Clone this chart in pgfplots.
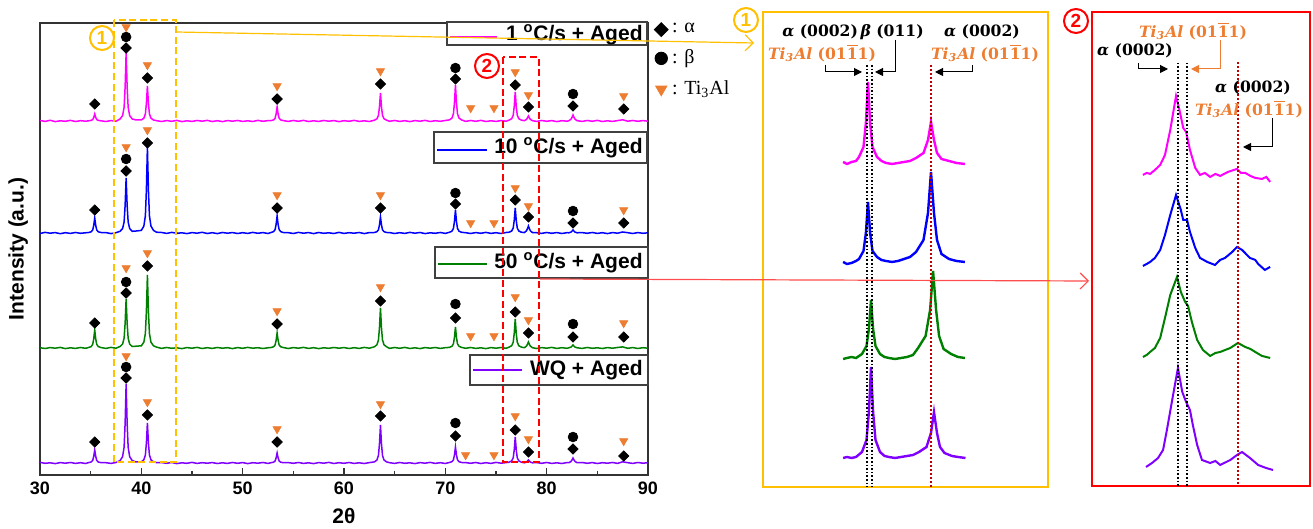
\documentclass[border=0pt]{standalone}
\usepackage{pgfplots}
\pgfplotsset{compat=1.18}
\usepackage{pgfplotstable}
\usepackage{fontspec}
\setmainfont{Liberation Sans}
\newfontfamily\tnr{Liberation Serif}
\newfontfamily\dvs{DejaVu Serif}
\usetikzlibrary{arrows.meta}

\definecolor{cM}{RGB}{255,0,255}
\definecolor{cB}{RGB}{0,0,255}
\definecolor{cG}{RGB}{0,128,0}
\definecolor{cP}{RGB}{128,0,255}
\definecolor{cOr}{RGB}{237,125,49}
\definecolor{cY}{RGB}{255,192,0}
\definecolor{cR}{RGB}{255,0,0}
\definecolor{cDR}{RGB}{192,0,0}

\newcommand{\tial}{\textit{Ti\textsubscript{3}Al}}
\newcommand{\ohkl}{(01$\overline{\mbox{1}}$1)}
\newcommand{\lab}{\dvs\bfseries\fontsize{7.8}{9}\selectfont}

\pgfplotsset{
  lgmark/.style={legend image code/.code={\draw[##1, every mark/.append style={scale=#1}] plot coordinates {(0.1cm,0cm)};}},
}

% peak heights above each baseline: m = 1 C/s, b = 10 C/s, g = 50 C/s, p = WQ
\pgfplotstableread{
x      m     b     g     p
30.0   0.5  -0.5   0.3   0.6
30.5  -0.4   0.6  -0.5  -0.3
31.0   0.7  -0.2   0.4   0.2
31.5  -0.6   0.4  -0.2  -0.6
32.0   0.2  -0.7   0.6   0.4
32.5  -0.3   0.3  -0.6  -0.2
33.0   0.6  -0.4   0.2   0.5
33.5  -0.5   0.5  -0.4  -0.4
34.0   0.3  -0.3   0.5   0.3
34.5  -0.2   0.2  -0.3  -0.5
34.8   0.2   0.5   0.5   0.4
35.05  0.6   1.2   1.4   1.0
35.2   1.4   3.0   3.6   2.6
35.3   3.5   7.5   9.0   6.5
35.4   7.0  15.0  18.0  13.0
35.5   3.5   7.5   9.0   6.5
35.6   1.4   3.0   3.6   2.6
35.75  0.6   1.2   1.4   1.0
36.0   0.2   0.5   0.5   0.4
36.5  -0.5   0.4  -0.4   0.3
37.0   0.4  -0.6   0.6  -0.4
37.5  -0.3   0.3  -0.2   0.5
37.9   2.0   1.7   1.5   2.4
38.15  5.4   4.4   3.9   6.3
38.3  13.6  11.0   9.8  15.8
38.4  34.0  27.5  24.5  39.5
38.5  68.0  55.0  49.0  79.0
38.6  34.0  27.5  24.5  39.5
38.7  13.6  11.0   9.8  15.8
38.85  5.4   4.4   3.9   6.3
39.1   2.0   1.7   1.5   2.4
39.5   1.0   2.0   1.8   1.0
40.0   1.0   2.6   2.2   1.2
40.25  2.8   6.9   5.8   3.2
40.4   7.0  17.2  14.6   8.0
40.5  17.5  43.0  36.5  20.0
40.6  35.0  86.0  73.0  40.0
40.7  17.5  43.0  36.5  20.0
40.8   7.0  17.2  14.6   8.0
40.95  2.8   6.9   5.8   3.2
41.2   1.0   2.6   2.2   1.2
41.5   0.3   0.8   0.9   0.4
42.0  -0.5   0.5  -0.4   0.4
42.5   0.4  -0.4   0.5  -0.3
43.0  -0.3   0.6  -0.3   0.5
43.5   0.6  -0.3   0.2  -0.6
44.0  -0.6   0.2  -0.6   0.2
44.5   0.2  -0.6   0.4  -0.3
45.0  -0.4   0.4  -0.2   0.6
45.5   0.5  -0.2   0.6  -0.4
46.0  -0.2   0.7  -0.5   0.3
46.5   0.6  -0.5   0.3  -0.2
47.0  -0.5   0.3  -0.4   0.4
47.5   0.3  -0.6   0.5  -0.5
48.0  -0.6   0.5  -0.2   0.2
48.5   0.4  -0.2   0.3  -0.4
49.0  -0.2   0.4  -0.6   0.5
49.5   0.5  -0.5   0.4  -0.3
50.0  -0.4   0.3  -0.3   0.4
50.5   0.2  -0.4   0.6  -0.6
51.0  -0.5   0.6  -0.2   0.3
51.5   0.6  -0.3   0.3  -0.2
52.0  -0.3   0.4  -0.5   0.5
52.5   0.4  -0.5   0.2  -0.4
52.8   0.4   0.5   0.5   0.3
53.05  1.1   1.4   1.2   0.8
53.2   2.8   3.4   3.0   2.0
53.3   7.0   8.5   7.5   5.0
53.4  14.0  17.0  15.0  10.0
53.5   7.0   8.5   7.5   5.0
53.6   2.8   3.4   3.0   2.0
53.75  1.1   1.4   1.2   0.8
54.0   0.4   0.5   0.5   0.3
54.5  -0.4   0.3  -0.5   0.4
55.0   0.5  -0.5   0.4  -0.3
55.5  -0.3   0.6  -0.2   0.5
56.0   0.6  -0.2   0.6  -0.4
56.5  -0.5   0.4  -0.4   0.2
57.0   0.2  -0.6   0.3  -0.6
57.5  -0.4   0.5  -0.6   0.4
58.0   0.5  -0.3   0.2  -0.2
58.5  -0.2   0.2  -0.3   0.6
59.0   0.4  -0.5   0.5  -0.5
59.5  -0.6   0.6  -0.2   0.3
60.0   0.3  -0.4   0.4  -0.3
60.5  -0.3   0.3  -0.5   0.5
61.0   0.6  -0.2   0.3  -0.4
61.5  -0.4   0.5  -0.4   0.2
62.0   0.2  -0.6   0.6  -0.5
62.5  -0.5   0.4  -0.2   0.4
63.0   0.8   0.5   1.2   1.1
63.25  2.2   1.3   3.2   3.0
63.4   5.6   3.2   8.0   7.6
63.5  14.0   8.0  20.0  19.0
63.6  28.0  16.0  40.0  38.0
63.7  14.0   8.0  20.0  19.0
63.8   5.6   3.2   8.0   7.6
63.95  2.2   1.3   3.2   3.0
64.2   0.8   0.5   1.2   1.1
64.5  -0.3   0.4  -0.4   0.3
65.0   0.5  -0.5   0.5  -0.4
65.5  -0.4   0.3  -0.3   0.5
66.0   0.3  -0.4   0.6  -0.3
66.5  -0.6   0.6  -0.5   0.2
67.0   0.4  -0.2   0.2  -0.6
67.5  -0.2   0.5  -0.6   0.4
68.0   0.6  -0.6   0.4  -0.2
68.5  -0.5   0.2  -0.2   0.6
69.0   0.3  -0.3   0.5  -0.4
69.5  -0.3   0.5  -0.4   0.3
70.0   0.5  -0.4   0.3  -0.5
70.4   1.1   0.7   0.6   0.5
70.65  2.9   1.8   1.7   1.3
70.8   7.2   4.6   4.2   3.2
70.9  18.0  11.5  10.5   8.0
71.0  36.0  23.0  21.0  16.0
71.1  18.0  11.5  10.5   8.0
71.2   7.2   4.6   4.2   3.2
71.35  2.9   1.8   1.7   1.3
71.6   1.1   0.7   0.6   0.5
72.0  -0.4   0.3  -0.3   0.4
72.5   0.5  -0.5   0.5  -0.3
73.0  -0.3   0.4  -0.4   0.5
73.5   0.6  -0.3   0.2  -0.5
74.0  -0.5   0.6  -0.6   0.3
74.5   0.2  -0.4   0.4  -0.4
75.0  -0.4   0.3  -0.2   0.6
75.5   0.4  -0.5   0.5  -0.2
76.0  -0.2   0.5  -0.3   0.4
76.3   0.9   0.8   0.9   0.8
76.55  2.3   2.0   2.3   2.1
76.7   5.8   5.0   5.8   5.2
76.8  14.5  12.5  14.5  13.0
76.9  29.0  25.0  29.0  26.0
77.0  14.5  12.5  14.5  13.0
77.1   5.8   5.0   5.8   5.2
77.25  2.3   2.0   2.3   2.1
77.5   0.9   0.8   0.9   0.8
77.8   0.3   0.4   0.3   0.2
78.0   1.5   2.1   1.8   0.9
78.1   3.0   4.2   3.6   1.8
78.2   5.0   7.0   6.0   3.0
78.3   3.0   4.2   3.6   1.8
78.4   1.5   2.1   1.8   0.9
78.6   0.3   0.4   0.3   0.2
79.0  -0.4   0.3  -0.5   0.4
79.5   0.5  -0.4   0.4  -0.3
80.0  -0.3   0.5  -0.2   0.5
80.5   0.4  -0.3   0.6  -0.4
81.0  -0.6   0.4  -0.4   0.2
81.5   0.3  -0.5   0.3  -0.5
82.0  -0.2   0.3  -0.3   0.4
82.2   0.3   0.2   0.2   0.3
82.4   1.8   0.9   0.9   1.5
82.5   3.6   1.8   1.8   3.0
82.6   6.0   3.0   3.0   5.0
82.7   3.6   1.8   1.8   3.0
82.8   1.8   0.9   0.9   1.5
83.0   0.3   0.2   0.2   0.3
83.5  -0.4   0.4  -0.4   0.5
84.0   0.5  -0.3   0.5  -0.3
84.5  -0.3   0.5  -0.3   0.4
85.0   0.6  -0.4   0.2  -0.5
85.5  -0.5   0.3  -0.5   0.3
86.0   0.2  -0.6   0.4  -0.2
86.5  -0.4   0.4  -0.2   0.5
87.0   0.4  -0.2   0.5  -0.4
87.5   1.2   1.0   1.1   1.2
88.0  -0.2   0.3  -0.3   0.3
88.5   0.5  -0.5   0.4  -0.4
89.0  -0.3   0.4  -0.5   0.5
89.5   0.4  -0.3   0.3  -0.2
90.0  -0.2   0.2  -0.2   0.3
}\xrd

\begin{document}
\begin{tikzpicture}
\useasboundingbox (0,0) rectangle (656.5pt,264.5pt);

% ---------------- main pattern ----------------
\begin{axis}[
    at={(20pt,27pt)}, anchor=south west,
    width=304pt, height=226pt, scale only axis,
    xmin=30, xmax=90, ymin=0, ymax=452,
    xtick={30,40,...,90}, minor xtick={35,45,...,85},
    xtick pos=bottom, ytick=\empty,
    tick align=inside,
    major tick length=3.5pt, minor tick length=2pt,
    axis line style={black!80, line width=0.8pt},
    every tick/.style={black!80, line width=0.8pt},
    /pgf/number format/assume math mode=true,
    xticklabel style={font=\bfseries\fontsize{9}{10}\selectfont},
    xlabel={2θ},
    xlabel style={font=\bfseries\fontsize{10.5}{12}\selectfont, at={(axis description cs:0.5,-0.091)}, anchor=center},
    ylabel={Intensity (a.u.)},
    ylabel style={font=\bfseries\fontsize{10.5}{12}\selectfont, at={(axis description cs:-0.036,0.5)}, anchor=center},
    clip=false,
    legend style={at={(1,1)}, anchor=north west, xshift=3pt, yshift=2pt,
        draw=none, fill=none, inner sep=0pt, row sep=3pt,
        font=\tnr\fontsize{10}{12}\selectfont},
    legend cell align=left,
]
\addplot[cM, line width=0.75pt, forget plot] table[x=x, y expr=\thisrow{m}+354] {\xrd};
\addplot[cB, line width=0.75pt, forget plot] table[x=x, y expr=\thisrow{b}+242] {\xrd};
\addplot[cG, line width=0.75pt, forget plot] table[x=x, y expr=\thisrow{g}+127] {\xrd};
\addplot[cP, line width=0.75pt, forget plot] table[x=x, y expr=\thisrow{p}+12] {\xrd};

% alpha
\addplot[only marks, black, mark=square*, mark size=1.8pt, mark options={rotate=45}, lgmark=1.35]
coordinates {
 (35.4,371) (38.5,427) (40.6,397) (53.4,376) (63.6,391) (71.0,396) (76.9,390) (78.2,368) (82.6,369) (87.6,366)
 (35.4,265) (38.5,304) (40.6,332) (53.4,267) (63.6,267) (71.0,271) (76.9,275) (78.2,258) (82.6,252) (87.6,252)
 (35.4,152) (38.5,182) (40.6,209) (53.4,151) (63.6,174) (71.0,157) (76.9,163) (78.2,142) (82.6,138) (87.6,138)
 (35.4,33) (38.5,97) (40.6,60) (53.4,33) (63.6,59) (71.0,39) (76.9,45) (78.2,23) (82.6,26) (87.6,19)
};
\addlegendentry{: α}
% beta
\addplot[only marks, black, mark=*, mark size=2.4pt, lgmark=1.3]
coordinates {
 (38.5,438) (71.0,407) (82.6,381)
 (38.5,316) (71.0,282) (82.6,264)
 (38.5,193) (71.0,171) (82.6,151)
 (38.5,108) (71.0,52) (82.6,38)
};
\addlegendentry{: β}
% Ti3Al
\addplot[only marks, cOr, mark=triangle*, mark size=2.3pt, mark options={rotate=180}, lgmark=1.4]
coordinates {
 (38.5,448) (40.6,410) (53.4,389) (63.6,404) (72.5,367) (74.8,367) (76.9,403) (78.2,380) (87.6,379)
 (38.5,328) (40.6,345) (53.4,280) (63.6,280) (72.5,252) (74.8,252) (76.9,287) (78.2,269) (87.6,265)
 (38.5,207) (40.6,222) (53.4,164) (63.6,188) (72.5,139) (74.8,139) (76.9,178) (78.2,155) (87.6,152)
 (38.5,119) (40.6,73) (53.4,46) (63.6,71) (72.0,20) (74.8,20) (76.9,59) (78.2,36) (87.6,34)
};
\addlegendentry{: Ti\textsubscript{3}Al}
\end{axis}

% ---------------- inset 1 ----------------
\begin{axis}[
    at={(381.5pt,21pt)}, anchor=south west,
    width=142.5pt, height=237.5pt, scale only axis,
    xmin=35.0, xmax=44.5, ymin=0, ymax=475,
    xtick=\empty, ytick=\empty,
    axis line style={cY, line width=1pt},
]
\addplot[cM, line width=1.2pt] coordinates {
 (37.67,325) (37.8,323) (37.95,325) (38.1,326) (38.2,330) (38.35,340) (38.43,364) (38.5,405) (38.57,364) (38.65,340) (38.8,330) (38.95,326) (39.1,324) (39.3,323) (39.5,324) (39.7,325) (39.9,326) (40.1,329) (40.35,334) (40.5,347) (40.6,365) (40.7,347) (40.8,334) (40.95,328) (41.2,326) (41.45,324) (41.73,323)};
\addplot[cB, line width=1.2pt] coordinates {
 (37.67,225) (37.8,223) (37.95,224) (38.1,226) (38.2,228) (38.35,236) (38.43,254) (38.5,285) (38.57,254) (38.65,236) (38.8,230) (38.95,227) (39.1,226) (39.3,225) (39.5,226) (39.7,228) (39.9,230) (40.1,235) (40.35,247) (40.5,274) (40.6,315) (40.7,274) (40.8,247) (40.95,233) (41.2,228) (41.45,226) (41.73,225)};
\addplot[cG, line width=1.2pt] coordinates {
 (37.67,128) (37.8,129) (37.95,130) (38.1,129) (38.3,133) (38.45,141) (38.53,158) (38.6,187) (38.67,158) (38.75,141) (38.9,133) (39.05,130) (39.2,129) (39.4,128) (39.6,129) (39.8,130) (40.0,132) (40.17,139) (40.42,151) (40.57,177) (40.67,216) (40.77,177) (40.87,151) (41.02,138) (41.27,133) (41.5,130) (41.73,129)};
\addplot[cP, line width=1.2pt] coordinates {
 (37.67,29) (37.8,30) (37.95,29) (38.1,30) (38.3,35) (38.45,47) (38.53,75) (38.6,120) (38.67,75) (38.75,47) (38.9,35) (39.05,31) (39.2,30) (39.4,29) (39.6,30) (39.8,31) (40.0,32) (40.2,35) (40.45,40) (40.6,54) (40.7,75) (40.8,54) (40.9,40) (41.05,34) (41.3,31) (41.5,30) (41.75,29)};
\draw[black, densely dotted, line width=0.8pt] (axis cs:38.47,422) -- (axis cs:38.47,0);
\draw[black, densely dotted, line width=0.8pt] (axis cs:38.63,422) -- (axis cs:38.63,0);
\draw[cDR, densely dotted, line width=1pt] (axis cs:40.6,422) -- (axis cs:40.6,0);
\end{axis}

% ---------------- inset 2 ----------------
\begin{axis}[
    at={(546pt,21.5pt)}, anchor=south west,
    width=109pt, height=237pt, scale only axis,
    xmin=75.15, xmax=79.69, ymin=0, ymax=474,
    xtick=\empty, ytick=\empty,
    axis line style={cR, line width=1pt},
]
\addplot[cM, line width=1pt] coordinates {
 (76.21,311) (76.29,313) (76.36,312) (76.46,316) (76.57,321) (76.67,331) (76.78,356) (76.9,390) (76.98,374) (77.05,358) (77.11,354) (77.19,336) (77.3,318) (77.4,311) (77.5,313) (77.61,309) (77.72,312) (77.82,310) (77.98,314) (78.17,317) (78.25,313) (78.34,313) (78.45,310) (78.55,308) (78.69,307) (78.78,309) (78.86,304)};
\addplot[cB, line width=1pt] coordinates {
 (76.21,220) (76.29,222) (76.36,224) (76.46,228) (76.57,236) (76.67,251) (76.78,271) (76.9,291) (77.0,276) (77.05,266) (77.13,266) (77.19,254) (77.3,238) (77.4,228) (77.55,224) (77.71,221) (77.82,226) (77.92,228) (78.07,234) (78.17,239) (78.275,236) (78.44,228) (78.55,226) (78.61,222) (78.75,216) (78.86,219)};
\addplot[cG, line width=1pt] coordinates {
 (76.21,129) (76.29,131) (76.36,134) (76.46,138) (76.57,148) (76.67,168) (76.78,191) (76.92,209) (77.0,194) (77.09,184) (77.15,180) (77.23,164) (77.34,146) (77.46,136) (77.61,130) (77.72,133) (77.82,134) (78.03,138) (78.19,143) (78.34,139) (78.45,137) (78.55,134) (78.69,130) (78.86,128)};
\addplot[cP, line width=1pt] coordinates {
 (76.275,19) (76.4,23) (76.525,28) (76.63,36) (76.71,56) (76.82,86) (76.94,118) (77.03,94) (77.11,84) (77.19,76) (77.25,61) (77.34,41) (77.44,26) (77.61,23) (77.72,25) (77.82,21) (78.03,26) (78.17,31) (78.275,34) (78.44,28) (78.61,21) (78.775,18) (78.92,16)};
\draw[black, densely dotted, line width=0.8pt] (axis cs:76.94,423) -- (axis cs:76.94,0);
\draw[black, densely dotted, line width=0.8pt] (axis cs:77.13,423) -- (axis cs:77.13,0);
\draw[cDR, densely dotted, line width=1pt] (axis cs:78.19,424) -- (axis cs:78.19,0);
\end{axis}

% ---------------- annotations (pixel grid of the layout) ----------------
\begin{scope}[x=0.5pt, y=-0.5pt, yshift=264.5pt]
  % sample labels
  \tikzset{lgd/.style={anchor=east, inner sep=0pt, font=\bfseries\fontsize{10.5}{12}\selectfont}}
  \draw[black!75, fill=white, line width=0.6pt] (447,22) rectangle (647,45);
  \draw[cM, line width=0.75pt] (450,37) -- (497,37);
  \node[lgd] at (643,35) {1 \textsuperscript{o}C/s + Aged};
  \draw[black!75, fill=white, line width=0.6pt] (434,132) rectangle (647,163);
  \draw[cB, line width=0.75pt] (437,150) -- (487,150);
  \node[lgd] at (643,148) {10 \textsuperscript{o}C/s + Aged};
  \draw[black!75, fill=white, line width=0.6pt] (435,247) rectangle (648,278);
  \draw[cG, line width=0.75pt] (438,264) -- (487,264);
  \node[lgd] at (643,263) {50 \textsuperscript{o}C/s + Aged};
  \draw[black!75, fill=white, line width=0.6pt] (470,355) rectangle (648,385);
  \draw[cP, line width=0.75pt] (473,370) -- (522,370);
  \node[lgd] at (643,370) {WQ + Aged};

  % zoom windows and links
  \draw[cY, line width=1.3pt, dash pattern=on 3.5pt off 1.8pt] (114,20) rectangle (176,462);
  \draw[cR, line width=1.3pt, dash pattern=on 3.5pt off 1.8pt] (503,57) rectangle (539,462);
  \draw[cY, line width=0.6pt, -{Straight Barb[length=4pt,width=8pt]}] (176,32) -- (754,43);
  \draw[cR!70, line width=0.6pt, -{Straight Barb[length=4pt,width=8pt]}] (540,279) -- (1089,281);
  \tikzset{num/.style={circle, line width=1pt, inner sep=0pt, minimum size=12pt, font=\bfseries\fontsize{9.5}{10}\selectfont}}
  \node[num, draw=cY, text=cY] at (102,38) {1};
  \node[num, draw=cR, text=cR] at (487,66) {2};
  \node[num, draw=cY, text=cY] at (746,20) {1};
  \node[num, draw=cR, text=cR] at (1076,21) {2};

  % inset 1 labels
  \node[font=\lab, inner sep=0pt] at (853,32) {{\itshape α} (0002)\,{\itshape β} (011)};
  \node[font=\lab, inner sep=0pt, text=cOr] at (822,53) {\tial\ \ohkl};
  \node[font=\lab, inner sep=0pt] at (982,32) {{\itshape α} (0002)};
  \node[font=\lab, inner sep=0pt, text=cOr] at (985,53) {\tial\ \ohkl};
  \draw[line width=0.5pt, -{Triangle[length=4pt,width=4pt]}] (825,65) -- (825,72) -- (862,72);
  \draw[line width=0.5pt, -{Triangle[length=4pt,width=4pt]}] (895,40) -- (895,72) -- (875,72);
  \draw[line width=0.5pt, -{Triangle[length=4pt,width=4pt]}] (972,65) -- (972,72) -- (935,72);

  % inset 2 labels
  \node[font=\lab, inner sep=0pt, text=cOr] at (1193,31) {\tial\ \ohkl};
  \node[font=\lab, inner sep=0pt] at (1135,51) {{\itshape α} (0002)};
  \draw[line width=0.5pt, -{Triangle[length=4pt,width=4pt]}] (1138,63) -- (1138,69) -- (1168,69);
  \draw[cOr, line width=0.5pt, -{Triangle[length=4pt,width=4pt]}] (1220,40) -- (1220,69) -- (1191,69);
  \node[font=\lab, inner sep=0pt] at (1253,88) {{\itshape α} (0002)};
  \node[font=\lab, inner sep=0pt, text=cOr] at (1249,109) {\tial\ \ohkl};
  \draw[line width=0.5pt, -{Triangle[length=4pt,width=4pt]}] (1272,118) -- (1272,147) -- (1243,147);
\end{scope}
\end{tikzpicture}
\end{document}
